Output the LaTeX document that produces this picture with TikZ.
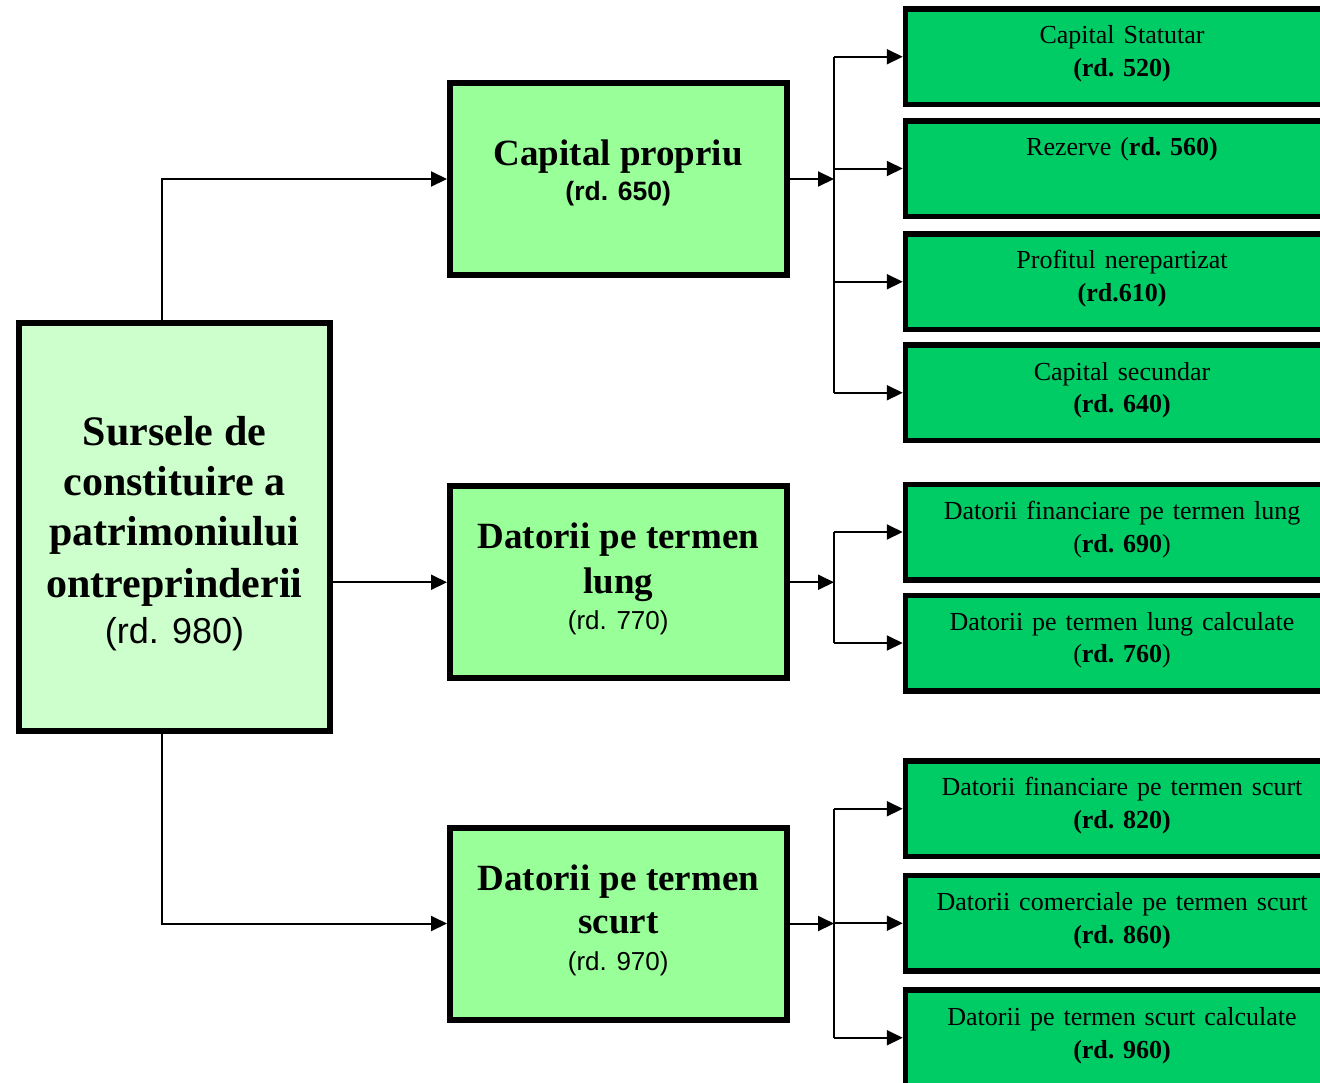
\documentclass[tikz,border=0pt]{standalone}
\usepackage{fontspec}
\setmainfont{Liberation Serif}
\setsansfont{Liberation Sans}
\newfontfamily\leafserif[WordSpace=1.38]{Liberation Serif}
\newcommand\rdbold[1]{{\rmfamily\bfseries #1}}
\usetikzlibrary{arrows.meta}
\definecolor{srcg}{HTML}{CCFFCC}
\definecolor{midg}{HTML}{99FF99}
\definecolor{leafg}{HTML}{00CC66}
\tikzset{
  srcbox/.style={draw, line width=6pt, fill=srcg, inner sep=0pt, minimum width=311.5pt, minimum height=408pt},
  midbox/.style={draw, line width=6pt, fill=midg, inner sep=0pt, minimum width=336.5pt, minimum height=192pt},
  leafbox/.style={draw, line width=5.5pt, fill=leafg, inner sep=0pt, minimum width=433.5pt, minimum height=95.5pt},
  conn/.style={line width=2pt},
  arr/.style={conn, -{Triangle[length=16pt,width=15pt]}},
  txt/.style={anchor=base, inner sep=0pt},
  srcfont/.style={font=\fontsize{42}{50}\selectfont\bfseries},
  srcrd/.style={font=\fontsize{36}{42}\selectfont\sffamily},
  midfont/.style={font=\fontsize{37}{44}\selectfont\bfseries},
  midrd/.style={font=\fontsize{26}{31}\selectfont\sffamily},
  midrdb/.style={font=\fontsize{26.5}{31}\selectfont\sffamily\bfseries},
  leaffont/.style={font=\leafserif\fontsize{26}{31}\selectfont},
}
\begin{document}
\begin{tikzpicture}[x=1pt,y=-1pt]
\useasboundingbox (0,0) rectangle (1320,1082);

% source box
\node[srcbox] (src) at (174.25,527) {};
\node[txt,srcfont] (srcA) at (174.5,445) {Sursele de};
\node[txt,srcfont] (srcB) at (174.5,495) {constituire a};
\node[txt,srcfont] (srcC) at (174.5,545) {patrimoniului};
\node[txt,srcfont] (srcD) at (174.5,597) {ontreprinderii};
\node[txt,srcrd]   (srcE) at (174.5,643) {(rd. 980)};

% middle boxes
\node[midbox] (cp) at (618.25,179) {};
\node[txt,midfont] (cpA) at (618.25,165) {Capital propriu};
\node[txt,midrdb]  (cpB) at (618.25,200) {(rd. 650)};

\node[midbox] (dl) at (618.25,582.25) {};
\node[txt,midfont] (dlA) at (618.25,548) {Datorii pe termen};
\node[txt,midfont] (dlB) at (618.25,593) {lung};
\node[txt,midrd]   (dlC) at (618.25,629) {(rd. 770)};

\node[midbox] (ds) at (618.25,923.5) {};
\node[txt,midfont] (dsA) at (618.25,890) {Datorii pe termen};
\node[txt,midfont] (dsB) at (618.25,933) {scurt};
\node[txt,midrd]   (dsC) at (618.25,970) {(rd. 970)};

% leaf boxes
\node[leafbox] (r1) at (1122.25,56.75) {};
\node[txt,leaffont] (r1A) at (1122,43) {Capital Statutar};
\node[txt,leaffont] (r1B) at (1122,76) {\rdbold{(rd. 520)}};

\node[leafbox] (r2) at (1122.25,168.5) {};
\node[txt,leaffont] (r2A) at (1122,155) {Rezerve (\rdbold{rd. 560)}};

\node[leafbox] (r3) at (1122.25,281.75) {};
\node[txt,leaffont] (r3A) at (1122,268.5) {Profitul nerepartizat};
\node[txt,leaffont] (r3B) at (1122,301) {\rdbold{(rd.610)}};

\node[leafbox] (r4) at (1122.25,392.75) {};
\node[txt,leaffont] (r4A) at (1122,380) {Capital secundar};
\node[txt,leaffont] (r4B) at (1122,412) {\rdbold{(rd. 640)}};

\node[leafbox] (r5) at (1122.25,532) {};
\node[txt,leaffont] (r5A) at (1122,519.5) {Datorii financiare pe termen lung};
\node[txt,leaffont] (r5B) at (1122,552) {(\rdbold{rd. 690})};

\node[leafbox] (r6) at (1122.25,643) {};
\node[txt,leaffont] (r6A) at (1122,630) {Datorii pe termen lung calculate};
\node[txt,leaffont] (r6B) at (1122,662.5) {(\rdbold{rd. 760})};

\node[leafbox] (r7) at (1122.25,808.75) {};
\node[txt,leaffont] (r7A) at (1122,795) {Datorii financiare pe termen scurt};
\node[txt,leaffont] (r7B) at (1122,828) {\rdbold{(rd. 820)}};

\node[leafbox] (r8) at (1122.25,923.25) {};
\node[txt,leaffont] (r8A) at (1122,910) {Datorii comerciale pe termen scurt};
\node[txt,leaffont] (r8B) at (1122,943) {\rdbold{(rd. 860)}};

\node[leafbox] (r9) at (1122.25,1037.75) {};
\node[txt,leaffont] (r9A) at (1122,1025) {Datorii pe termen scurt calculate};
\node[txt,leaffont] (r9B) at (1122,1058) {\rdbold{(rd. 960)}};

% connectors from source
\coordinate (k) at (162.3,0);
\draw[arr] (src.north -| k) |- (cp.west);
\draw[arr] (src.east |- dl.west) -- (dl.west);
\draw[arr] (src.south -| k) |- (ds.west);

% branch 1
\coordinate (v1) at (834,179);
\draw[arr] (cp.east) -- (v1);
\draw[conn] (v1 |- r1.west) -- (v1 |- r4.west);
\foreach \r in {r1,r2,r3,r4} \draw[arr] (v1 |- \r.west) -- (\r.west);

% branch 2
\coordinate (v2) at (834,582.25);
\draw[arr] (dl.east) -- (v2);
\draw[conn] (v2 |- r5.west) -- (v2 |- r6.west);
\foreach \r in {r5,r6} \draw[arr] (v2 |- \r.west) -- (\r.west);

% branch 3
\coordinate (v3) at (834,923.5);
\draw[arr] (ds.east) -- (v3);
\draw[conn] (v3 |- r7.west) -- (v3 |- r9.west);
\foreach \r in {r7,r8,r9} \draw[arr] (v3 |- \r.west) -- (\r.west);
\end{tikzpicture}
\end{document}
